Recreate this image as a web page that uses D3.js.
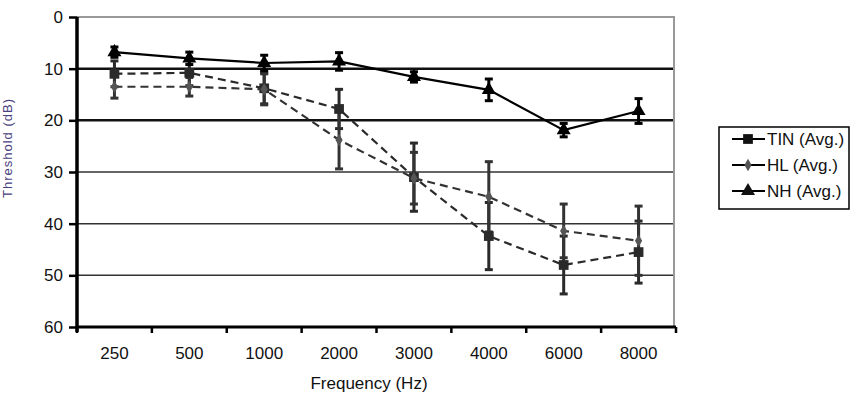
<!DOCTYPE html>
<html>
<head>
<meta charset="utf-8">
<script src="https://cdn.jsdelivr.net/npm/d3@7"></script>
<style>
  body { margin: 0; background: #fff; }
  text { font-family: "Liberation Sans", Arial, sans-serif; }
</style>
</head>
<body>
<svg width="852" height="402"></svg>
<script>
// data
var freqs = ["250", "500", "1000", "2000", "3000", "4000", "6000", "8000"];
var yTicks = [0, 10, 20, 30, 40, 50, 60];
var tin = [11, 10.8, 13.8, 17.8, 31, 42.4, 48, 45.5];
var tinErr = [2.5, 2.5, 3, 3.8, 6.6, 6.5, 5.6, 6];
var hl = [13.5, 13.5, 14, 23.8, 31.2, 34.8, 41.4, 43.3];
var hlErr = [2.2, 1.8, 3, 5.6, 5, 6.8, 5.2, 6.7];
var nh = [6.8, 8, 8.9, 8.6, 11.6, 14.1, 21.9, 18.2];
var nhErr = [1, 1.2, 1.5, 1.7, 1, 2.1, 1.3, 2.4];

var svg = d3.select("svg"),
    margin = {top: 17, right: 176, bottom: 75, left: 77},
    width = 852 - margin.left - margin.right,
    height = 402 - margin.top - margin.bottom;

var x = d3.scaleBand().domain(freqs).range([0, width]);
var y = d3.scaleLinear().domain([0, 60]).range([0, height]);

var g = svg.append("g")
    .attr("transform", "translate(" + margin.left + "," + margin.top + ")");

// grid lines
g.selectAll(".grid")
  .data(yTicks.filter(function(d) { return d > 0 && d < 60; }))
  .enter().append("line")
    .attr("x1", 0).attr("x2", width - 2)
    .attr("y1", function(d) { return y(d); })
    .attr("y2", function(d) { return y(d); })
    .attr("stroke", function(d) { return d <= 20 ? "#111" : "#333"; })
    .attr("stroke-width", function(d) { return d <= 20 ? 2.5 : 1.5; });

// top and right border
g.append("path")
    .attr("d", "M0,0H" + (width - 2) + "V" + height)
    .attr("fill", "none")
    .attr("stroke", "#999")
    .attr("stroke-width", 2);

// y axis
var yAxis = g.append("g")
    .call(d3.axisLeft(y).tickValues(yTicks).tickSize(8).tickPadding(6));
yAxis.select(".domain").attr("stroke", "#000").attr("stroke-width", 3.5)
    .attr("d", "M0,0V" + (height + 5));
yAxis.selectAll(".tick line").attr("stroke", "#000").attr("stroke-width", 2.5);
yAxis.selectAll(".tick text").attr("font-size", 17).attr("fill", "#111")
    .attr("font-family", "Liberation Sans, Arial, sans-serif");

// x axis
var xAxis = g.append("g")
    .attr("transform", "translate(0," + height + ")")
    .call(d3.axisBottom(x).tickSize(0).tickPadding(20));
xAxis.select(".domain").attr("stroke", "#000").attr("stroke-width", 3)
    .attr("d", "M0,0H" + width);
xAxis.selectAll(".tick text").attr("font-size", 17).attr("fill", "#111")
    .attr("font-family", "Liberation Sans, Arial, sans-serif");
xAxis.selectAll(".edge")
  .data(d3.range(freqs.length + 1))
  .enter().append("line")
    .attr("x1", function(i) { return i * x.bandwidth(); })
    .attr("x2", function(i) { return i * x.bandwidth(); })
    .attr("y1", 0).attr("y2", 6)
    .attr("stroke", "#000")
    .attr("stroke-width", 2.5);

svg.append("text")
    .attr("x", 369).attr("y", 389)
    .attr("text-anchor", "middle")
    .attr("font-size", 17)
    .attr("fill", "#111")
    .text("Frequency (Hz)");

svg.append("text")
    .attr("transform", "translate(12,148) rotate(-90)")
    .attr("text-anchor", "middle")
    .attr("font-size", 13)
    .attr("letter-spacing", 1)
    .attr("fill", "#4a3f80")
    .text("Threshold (dB)");

var series = [
  {name: "TIN (Avg.)", vals: tin, err: tinErr, color: "#2a2a2a", dash: "8,5", shape: d3.symbolSquare, size: 95},
  {name: "HL (Avg.)", vals: hl, err: hlErr, color: "#333", dash: "8,5", shape: d3.symbolDiamond, size: 45},
  {name: "NH (Avg.)", vals: nh, err: nhErr, color: "#000", dash: null, shape: d3.symbolTriangle, size: 85}
];

function cx(i) { return x(freqs[i]) + x.bandwidth() / 2; }

// error bars
series.forEach(function(s) {
  var eb = g.append("g");
  s.vals.forEach(function(v, i) {
    var lo = y(v - s.err[i]), hi = y(v + s.err[i]);
    eb.append("line")
        .attr("x1", cx(i)).attr("x2", cx(i))
        .attr("y1", lo).attr("y2", hi)
        .attr("stroke", s.color).attr("stroke-width", 3);
    [lo, hi].forEach(function(yy) {
      eb.append("line")
          .attr("x1", cx(i) - 4).attr("x2", cx(i) + 4)
          .attr("y1", yy).attr("y2", yy)
          .attr("stroke", s.color).attr("stroke-width", 3);
    });
  });
});

var line = d3.line()
    .x(function(d, i) { return cx(i); })
    .y(function(d) { return y(d); });

series.forEach(function(s) {
  g.append("path")
      .attr("d", line(s.vals))
      .attr("fill", "none")
      .attr("stroke", s.color)
      .attr("stroke-width", 2.2)
      .attr("stroke-dasharray", s.dash);

  g.selectAll(null)
    .data(s.vals)
    .enter().append("path")
      .attr("transform", function(d, i) { return "translate(" + cx(i) + "," + y(d) + ")"; })
      .attr("d", d3.symbol().type(s.shape).size(s.size))
      .attr("fill", s.name.indexOf("HL") == 0 ? "#555" : s.color);
});

// legend
var leg = svg.append("g").attr("transform", "translate(719,127)");
leg.append("rect")
    .attr("width", 130).attr("height", 82)
    .attr("fill", "#fff")
    .attr("stroke", "#000")
    .attr("stroke-width", 1.5);

var item = leg.selectAll(".item")
  .data(series)
  .enter().append("g")
    .attr("transform", function(d, i) { return "translate(0," + (12 + i * 26) + ")"; });

item.append("line")
    .attr("x1", 13).attr("x2", 46)
    .attr("stroke", "#000").attr("stroke-width", 2);
item.append("path")
    .attr("transform", "translate(29,0)")
    .attr("d", function(d) { return d3.symbol().type(d.shape).size(d.size)(); })
    .attr("fill", function(d) { return d.name.indexOf("HL") == 0 ? "#555" : "#111"; });
item.append("text")
    .attr("x", 48).attr("dy", "0.35em")
    .attr("font-size", 17)
    .attr("fill", "#111")
    .text(function(d) { return d.name; });
</script>
</body>
</html>
